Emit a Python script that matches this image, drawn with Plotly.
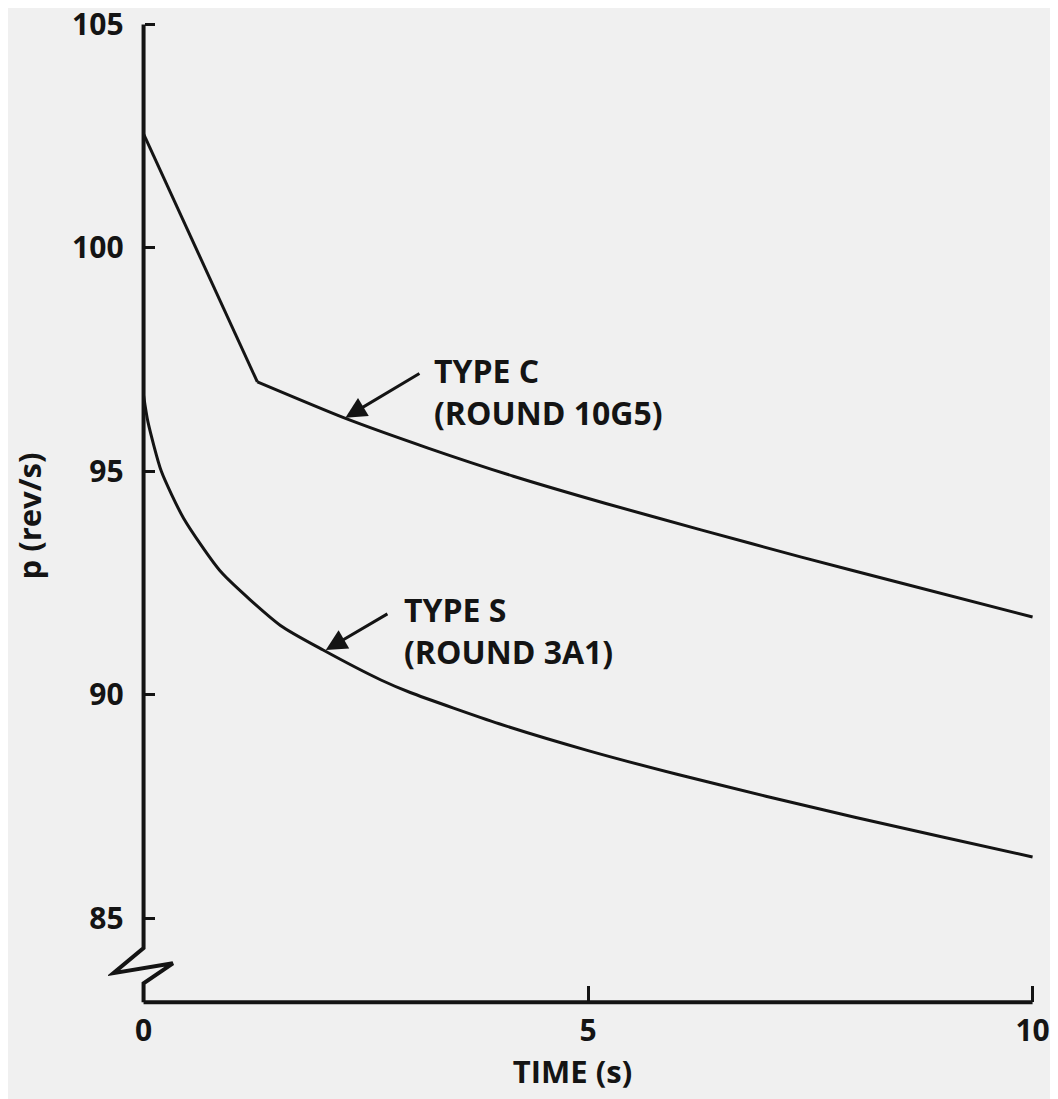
import plotly.graph_objects as go

# ---- data ----
c_time = [0.0, 1.28, 2.25, 3.2, 4.16, 5.2, 6.27, 7.4, 8.52, 10.0]
c_spin = [102.55, 97.0, 96.2, 95.52, 94.89, 94.28, 93.69, 93.08, 92.5, 91.74]

s_time = [0.0, 0.05, 0.2, 0.45, 0.87, 1.54, 2.02, 2.67, 3.0, 4.0, 5.0, 6.0, 7.0, 8.0, 9.0, 10.0]
s_spin = [96.7, 96.1, 95.0, 93.95, 92.75, 91.55, 91.0, 90.33, 90.05, 89.35, 88.75, 88.22, 87.73, 87.26, 86.81, 86.37]

x_ticks = [0, 5, 10]
x_ticklabels = ["0", "5", "10"]
y_ticks = [85, 90, 95, 100, 105]
y_ticklabels = ["85", "90", "95", "100", "105"]

X_RANGE = [-0.4, 10.05]
Y_RANGE = [82.9, 105.1]
Y_BASE = 83.12   # where the time axis is drawn

INK = "#141414"
PAPER = "#f0f0f0"
FONT = "Open Sans"

fig = go.Figure()

# Type C: straight initial drop, then smooth decay
fig.add_trace(go.Scatter(x=c_time[:2], y=c_spin[:2], mode="lines",
                         line=dict(color=INK, width=3), showlegend=False))
fig.add_trace(go.Scatter(x=c_time[1:], y=c_spin[1:], mode="lines",
                         line=dict(color=INK, width=3, shape="spline", smoothing=0.6),
                         showlegend=False))
# Type S
fig.add_trace(go.Scatter(x=s_time, y=s_spin, mode="lines",
                         line=dict(color=INK, width=3, shape="spline", smoothing=0.6),
                         showlegend=False))

# axis lines (with break symbol on the spin axis)
fig.add_shape(type="path",
              path=(f"M 0 105 L 0 84.33 L -0.34 83.77 L 0.33 83.99 "
                    f"L 0 83.54 L 0 {Y_BASE}"),
              xref="x", yref="y", line=dict(color=INK, width=4))
fig.add_shape(type="line", x0=0, x1=10, y0=Y_BASE, y1=Y_BASE,
              xref="x", yref="y", line=dict(color=INK, width=4))

# labels with arrows
label_font = dict(family=FONT, size=32, color=INK, weight="bold")
fig.add_annotation(x=3.25, y=96.78, xref="x", yref="y", xanchor="left", yanchor="middle",
                   text="TYPE C<br>(ROUND 10G5)", showarrow=False, align="left",
                   font=label_font)
fig.add_annotation(x=2.27, y=96.2, ax=3.12, ay=97.21, xref="x", yref="y",
                   axref="x", ayref="y", text="", showarrow=True,
                   arrowhead=2, arrowsize=1.4, arrowwidth=3, arrowcolor=INK)
fig.add_annotation(x=2.91, y=91.43, xref="x", yref="y", xanchor="left", yanchor="middle",
                   text="TYPE S<br>(ROUND 3A1)", showarrow=False, align="left",
                   font=label_font)
fig.add_annotation(x=2.05, y=91.0, ax=2.76, ay=91.83, xref="x", yref="y",
                   axref="x", ayref="y", text="", showarrow=True,
                   arrowhead=2, arrowsize=1.4, arrowwidth=3, arrowcolor=INK)

tick_font = dict(family=FONT, size=30, color=INK, weight="bold")
title_font = dict(family=FONT, size=31, color=INK, weight="bold")

fig.update_layout(
    width=1058, height=1099,
    paper_bgcolor=PAPER, plot_bgcolor=PAPER,
    margin=dict(l=100, r=29, t=12, b=95),
    xaxis=dict(range=X_RANGE, showgrid=False, zeroline=False, showline=False,
               automargin=False, ticklabeloverflow="allow",
               tickmode="array", tickvals=x_ticks, ticktext=x_ticklabels,
               ticks="inside", ticklen=16, tickwidth=3, tickcolor=INK,
               tickfont=tick_font, ticklabelstandoff=8, anchor="free",
               position=(Y_BASE - Y_RANGE[0]) / (Y_RANGE[1] - Y_RANGE[0]),
               title=dict(text="TIME (s)", font=title_font, standoff=8)),
    yaxis=dict(range=Y_RANGE, showgrid=False, zeroline=False, showline=False,
               automargin=False, ticklabeloverflow="allow",
               tickmode="array", tickvals=y_ticks, ticktext=y_ticklabels,
               ticks="inside", ticklen=10, tickwidth=3, tickcolor=INK,
               tickfont=tick_font, ticklabelstandoff=20, anchor="free",
               position=(0 - X_RANGE[0]) / (X_RANGE[1] - X_RANGE[0]),
               title=dict(text="p (rev/s)", font=title_font, standoff=23)),
)

fig.write_html("out.html")
